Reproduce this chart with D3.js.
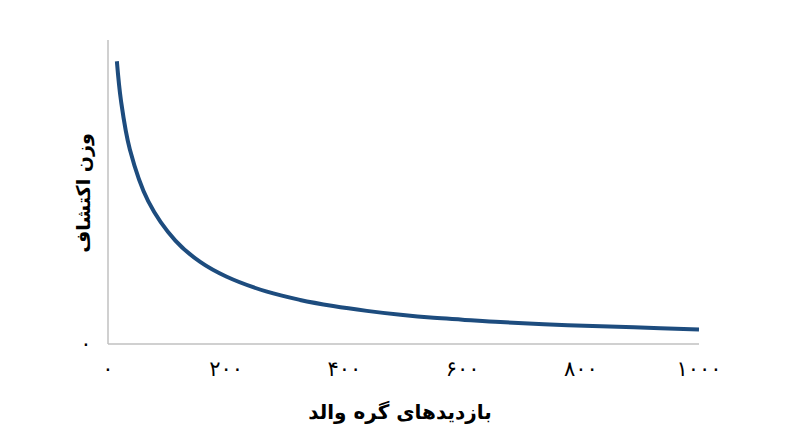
<!DOCTYPE html>
<html><head><meta charset="utf-8">
<script src="https://cdn.jsdelivr.net/npm/d3@7"></script>
<style>html,body{margin:0;padding:0;background:#fff;}</style>
</head><body>
<svg id="c" width="800" height="447"></svg>
<script>
const visits = [15, 22, 37, 68, 114, 156, 200, 269, 325, 381, 438, 495, 551, 600, 664, 778, 890, 1000];
const weight = [0.93, 0.80, 0.64, 0.47, 0.34, 0.27, 0.222, 0.172, 0.145, 0.125, 0.109, 0.096, 0.086, 0.080, 0.072, 0.062, 0.055, 0.048];
const xTicks = [0, 200, 400, 600, 800, 1000];
const yTicks = [0];
const xTitle = "بازدیدهای گره والد";
const yTitle = "وزن اکتشاف";

const fa = n => String(n).replace(/\d/g, d => "۰۱۲۳۴۵۶۷۸۹"[d]);
const svg = d3.select("#c");
const x = d3.scaleLinear().domain([0, 1000]).range([108, 699]);
const y = d3.scaleLinear().domain([0, 1]).range([344, 40]);

svg.append("line").attr("x1", x(0)).attr("x2", x(0)).attr("y1", y(1)).attr("y2", y(0))
  .attr("stroke", "#c0c0c0").attr("stroke-width", 1.5);
svg.append("line").attr("x1", x(0)).attr("x2", x(1000)).attr("y1", y(0)).attr("y2", y(0))
  .attr("stroke", "#c0c0c0").attr("stroke-width", 1.5);

svg.append("g").selectAll("text").data(xTicks).join("text")
  .attr("x", d => x(d)).attr("y", 376)
  .attr("text-anchor", "middle").attr("font-family", "DejaVu Sans").attr("font-size", 21)
  .attr("fill", "#000").text(d => fa(d));
svg.append("g").selectAll("text").data(yTicks).join("text")
  .attr("x", 86).attr("y", d => y(d) + 7)
  .attr("text-anchor", "middle").attr("font-family", "DejaVu Sans").attr("font-size", 21)
  .attr("fill", "#000").text(d => fa(d));

const line = d3.line().x((d, i) => x(visits[i])).y(d => y(d)).curve(d3.curveCatmullRom.alpha(0.5));
svg.append("path").attr("d", line(weight)).attr("fill", "none")
  .attr("stroke", "#1d4c7e").attr("stroke-width", 4);

svg.append("text").attr("x", 400).attr("y", 419).attr("text-anchor", "middle")
  .attr("font-family", "DejaVu Sans").attr("font-weight", "bold").attr("font-size", 20)
  .attr("direction", "rtl").text(xTitle);
svg.append("text").attr("transform", "translate(90,193) rotate(-90)").attr("text-anchor", "middle")
  .attr("font-family", "DejaVu Sans").attr("font-weight", "bold").attr("font-size", 19)
  .attr("direction", "rtl").text(yTitle);
</script>
</body></html>
